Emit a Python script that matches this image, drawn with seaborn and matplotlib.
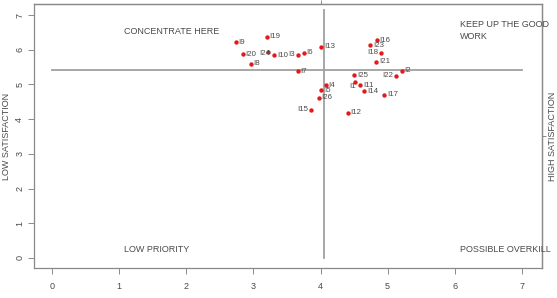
import numpy as np
import pandas as pd
import seaborn as sns
import matplotlib.pyplot as plt

ITEMS = ["I1", "I2", "I3", "I4", "I5", "I6", "I7", "I8", "I9", "I10", "I11", "I12", "I13",
         "I14", "I15", "I16", "I17", "I18", "I19", "I20", "I21", "I22", "I23", "I24", "I25", "I26"]
IMPORTANCE = [4.51, 5.21, 3.66, 4.08, 4.01, 3.75, 3.66, 2.96, 2.74, 3.31, 4.59, 4.41, 4.01,
              4.65, 3.86, 4.84, 4.95, 4.90, 3.20, 2.84, 4.83, 5.12, 4.74, 3.21, 4.50, 3.97]
SATISFACTION = [5.08, 5.39, 5.85, 4.98, 4.83, 5.91, 5.38, 5.59, 6.22, 5.84, 4.97, 4.19, 6.09,
                4.80, 4.27, 6.28, 4.71, 5.91, 6.38, 5.87, 5.65, 5.25, 6.13, 5.94, 5.27, 4.62]
# labels drawn left of the point instead of right
LEFT_LABELS = ["I1", "I3", "I15", "I18", "I22", "I24"]

X_CUT = 4.05
Y_CUT = 5.42
QUADRANTS = [
    (1.07, 6.54, "CONCENTRATE HERE"),
    (6.08, 6.56, "KEEP UP THE GOOD\nWORK"),
    (1.07, 0.23, "LOW PRIORITY"),
    (6.08, 0.23, "POSSIBLE OVERKILL"),
]

GREY = "#4a4a4a"
LINE = "#a0a0a0"
LABEL_SIZE = 5.7

plt.rcParams["font.family"] = ["Liberation Sans Narrow", "Liberation Sans", "DejaVu Sans"]

df = pd.DataFrame({"item": ITEMS, "imp": IMPORTANCE, "sat": SATISFACTION})

fig = plt.figure(figsize=(5.57, 2.98), dpi=100)
ax = fig.add_axes([0.061, 0.1007, 0.912, 0.886])

ax.plot([0, 7], [Y_CUT, Y_CUT], color=LINE, lw=1.3, zorder=1)
ax.plot([X_CUT, X_CUT], [0, 7.15], color=LINE, lw=1.3, zorder=1)

sns.scatterplot(data=df, x="imp", y="sat", color="#e31a1c", s=10, linewidth=0,
                ax=ax, zorder=3)

for _, r in df.iterrows():
    name = r["item"]
    if name == "I24":
        ax.text(r["imp"] + 0.04, r["sat"] - 0.05, name, ha="right", va="center",
                fontsize=LABEL_SIZE, color=GREY)
    elif name == "I1":
        ax.text(r["imp"] + 0.02, r["sat"] - 0.14, name, ha="right", va="center",
                fontsize=LABEL_SIZE, color=GREY)
    elif name in LEFT_LABELS:
        ax.text(r["imp"] - 0.04, r["sat"], name, ha="right", va="center",
                fontsize=LABEL_SIZE, color=GREY)
    else:
        ax.text(r["imp"] + 0.04, r["sat"], name, ha="left", va="center",
                fontsize=LABEL_SIZE, color=GREY)

for x, y, t in QUADRANTS:
    ax.text(x, y, t, ha="left", va="center", fontsize=6.5, color=GREY, linespacing=1.5)

ax.set_xlim(-0.27, 7.3)
ax.set_ylim(-0.29, 7.32)
ax.set_xticks(range(8))
ax.set_yticks(range(8))
ax.tick_params(axis="both", colors="#777777", labelcolor=GREY, labelsize=6.5,
               length=4, width=0.6)
ax.tick_params(axis="x", pad=6)
ax.tick_params(axis="y", labelrotation=90, pad=3)
for lab in ax.get_yticklabels():
    lab.set_va("center")
ax.set_xlabel("")
ax.set_ylabel("LOW SATISFACTION", fontsize=6.5, color=GREY, labelpad=3)

for s in ax.spines.values():
    s.set_color("#888888")
    s.set_linewidth(0.9)

right = ax.secondary_yaxis("right")
right.set_yticks([3.5])
right.set_yticklabels(["HIGH SATISFACTION"], rotation=90, va="center")
right.tick_params(colors="#777777", labelcolor=GREY, labelsize=6.5, length=3, width=0.6, pad=1)

top = ax.secondary_xaxis("top")
top.set_xticks([4.0])
top.set_xticklabels([""])
top.tick_params(colors="#777777", length=3, width=0.6)

fig.savefig("out.png", dpi=100)
